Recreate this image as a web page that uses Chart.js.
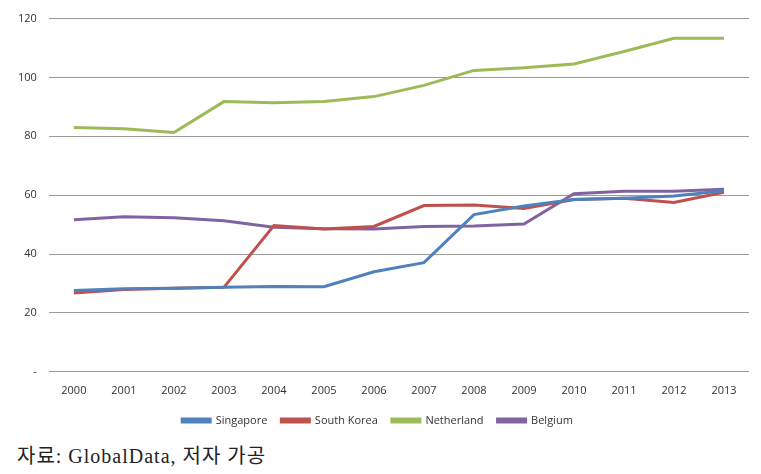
<!DOCTYPE html>
<html>
<head>
<meta charset="utf-8">
<script src="https://cdn.jsdelivr.net/npm/chart.js@4"></script>
<style>
  body { margin: 0; background: #fff; }
  #wrap { position: relative; width: 761px; height: 436px; }
  #caption {
    position: absolute; left: 17px; top: 440px;
    font-family: "Liberation Serif", "Noto Sans CJK KR", serif;
    font-size: 20px; letter-spacing: 1px; color: #222;
  }
</style>
</head>
<body>
<div id="wrap"><canvas id="line-chart"></canvas></div>
<div id="caption">자료: GlobalData, 저자 가공</div>
<script>
const years = ["2000", "2001", "2002", "2003", "2004", "2005", "2006", "2007", "2008", "2009", "2010", "2011", "2012", "2013"];
const singapore = [27.6, 28.2, 28.4, 28.7, 29.0, 28.9, 34.0, 37.1, 53.4, 56.3, 58.5, 59.0, 59.7, 61.5];
const southKorea = [26.8, 28.0, 28.4, 28.7, 49.7, 48.5, 49.4, 56.5, 56.7, 55.5, 58.5, 59.0, 57.5, 61.0];
const netherland = [83.0, 82.6, 81.3, 91.8, 91.4, 91.8, 93.5, 97.3, 102.4, 103.3, 104.6, 108.8, 113.3, 113.3];
const belgium = [51.7, 52.7, 52.3, 51.3, 49.1, 48.6, 48.5, 49.4, 49.5, 50.2, 60.5, 61.3, 61.3, 62.0];
const yTicks = [0, 20, 40, 60, 80, 100, 120];

function series(label, data, color) {
  return {
    label: label,
    data: data,
    borderColor: color,
    backgroundColor: color,
    borderWidth: 3,
    pointRadius: 0,
    tension: 0,
  };
}

const ctx = document.getElementById("line-chart").getContext("2d");
Chart.defaults.font.family = "'Open Sans', 'Noto Sans', sans-serif";
Chart.defaults.font.size = 11;
Chart.defaults.color = "#333";
new Chart(ctx, {
  type: "line",
  data: {
    labels: years,
    datasets: [
      series("Singapore", singapore, "#4F81BD"),
      series("South Korea", southKorea, "#C0504D"),
      series("Netherland", netherland, "#9BBB59"),
      series("Belgium", belgium, "#8064A2"),
    ],
  },
  options: {
    responsive: true,
    maintainAspectRatio: false,
    animation: false,
    layout: { padding: { left: 6, right: 12, top: 8, bottom: 0 } },
    plugins: {
      legend: {
        position: "bottom",
        labels: { boxWidth: 28, boxHeight: 3, padding: 14 },
      },
      tooltip: { enabled: false },
    },
    scales: {
      x: {
        offset: true,
        grid: { display: false },
        border: { display: false },
        ticks: { padding: 4, maxRotation: 0 },
      },
      y: {
        min: 0,
        max: 120,
        afterBuildTicks: (axis) => {
          axis.ticks = yTicks.map((v) => ({ value: v }));
        },
        border: { display: false },
        grid: { color: "#9a9a9a", drawTicks: false },
        ticks: {
          padding: 12,
          callback: (v) => (v === 0 ? "-" : v),
        },
      },
    },
  },
});
</script>
</body>
</html>
